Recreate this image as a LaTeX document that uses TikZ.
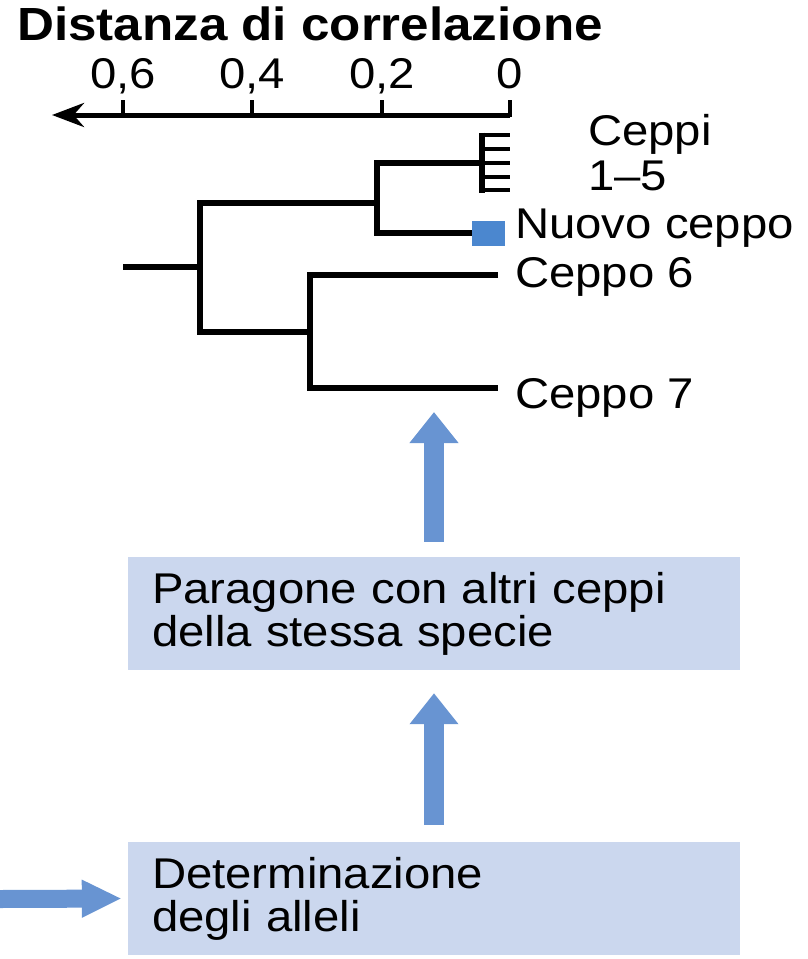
\documentclass[tikz,border=0pt]{standalone}
\usepackage{fontspec}
\setmainfont{Liberation Sans}[FakeStretch=1.1]
\usetikzlibrary{arrows.meta, positioning}
\definecolor{boxBlue}{HTML}{CBD7EE}
\definecolor{arrowBlue}{HTML}{6894D2}
\definecolor{leafBlue}{HTML}{4B87CF}

\begin{document}
\begin{tikzpicture}[x=1pt, y=-1pt,
  lbl/.style={font=\fontsize{43}{43}\selectfont, inner sep=0pt},
  ticklbl/.style={lbl, anchor=base},
  leaf/.style={lbl, anchor=base west},
  branch/.style={line width=6pt},
  box/.style={fill=boxBlue, minimum height=113pt, text width=564pt, inner xsep=24pt, align=left, font=\fontsize{43}{43}\selectfont},
  uparrow/.style={draw=arrowBlue, line width=20pt, -{Triangle[length=31pt, width=47pt]}},
]
  \useasboundingbox (0,0) rectangle (808,959);

  % axis
  \node[lbl, font=\fontsize{46.5}{46.5}\selectfont\bfseries, anchor=base west] (title) at (17,40) {Distanza di correlazione};
  \coordinate (zero) at (510,115);
  \coordinate (axisend) at (52,115);
  \draw[line width=5pt, -{Stealth[length=32pt, width=24pt]}] (zero) -- (axisend);
  \foreach \x/\l in {123/{0,6}, 252/{0,4}, 382/{0,2}, 510/0} {
    \draw[line width=3.5pt] (\x,117) -- (\x,100);
    \node[ticklbl] at (\x,88) {\l};
  }

  % tree
  \coordinate (root) at (123,267);
  \coordinate (a) at (200,267);
  \coordinate (b) at (377,203);
  \coordinate (c) at (310,332);
  \coordinate (comb) at (482,163);
  \coordinate (c6) at (498,275);
  \coordinate (c7) at (498,388);
  \node[fill=leafBlue, minimum width=33pt, minimum height=25pt, inner sep=0pt, anchor=west] (nuovo) at (472,233) {};

  \draw[branch] (root) -- (a);
  \draw[branch] (b) -| (a |- c) -- (c);
  \draw[branch] (comb) -| (b |- nuovo) -- (nuovo.west);
  \draw[branch] (c6) -| (c |- c7) -- (c7);
  \draw[line width=6pt] (482,132.5) -- (482,192.5);
  \foreach \y in {135,149,163,177,190}
    \draw[line width=4.5pt] (482,\y) -- (510,\y);

  \node[leaf] (ceppi) at (588,145) {Ceppi};
  \node[leaf] (ceppi15) at (588,190) {1–5};
  \node[leaf] (lnuovo) at (515,238) {Nuovo ceppo};
  \node[leaf] (l6) at (515,287) {Ceppo 6};
  \node[leaf] (l7) at (515,408) {Ceppo 7};

  % boxes
  \node[box] (confronto) at (434,613.5) {Paragone con altri ceppi\\della stessa specie};
  \node[box] (alleli) at (434,898.5) {Determinazione\\degli alleli};

  \coordinate (tip) at (434,412);
  \coordinate (input) at (0,899);
  \draw[uparrow] ([yshift=15pt]confronto.north) -- (tip);
  \draw[uparrow] ([yshift=17pt]alleli.north) -- ([yshift=-23pt]confronto.south);
  \draw[draw=arrowBlue, line width=18pt, -{Triangle[length=40pt, width=35pt]}, shorten >=6pt] (input) -- (alleli.west);
\end{tikzpicture}
\end{document}
